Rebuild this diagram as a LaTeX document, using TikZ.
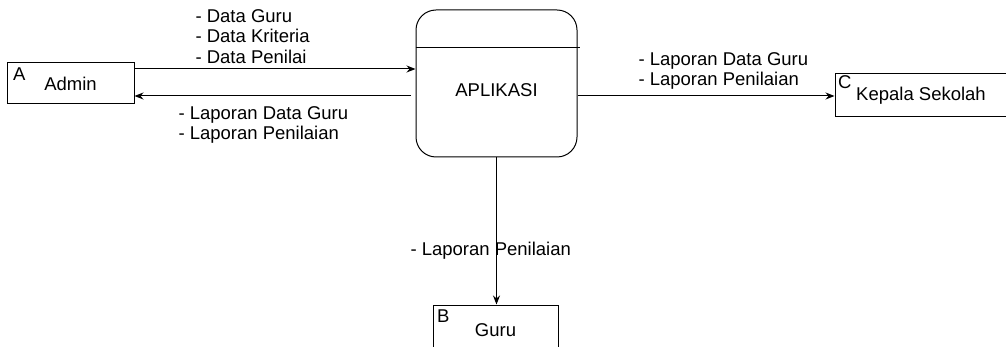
\documentclass[tikz,border=0pt]{standalone}
\usepackage{fontspec}
\setmainfont{Liberation Sans}
\usetikzlibrary{arrows.meta}
\usetikzlibrary{positioning}

\begin{document}
\begin{tikzpicture}[x=1pt,y=-1pt,line width=1pt,>={Stealth[length=9pt,width=7pt]},
	every node/.style={font=\fontsize{18.5}{20.5}\selectfont},
	entity/.style={draw,rectangle,inner sep=0pt},
	lbl/.style={align=left,inner sep=0pt,anchor=north west}]
	\useasboundingbox (0,0) rectangle (1006,347);
	% external entities
	\node[entity,minimum width=127,minimum height=41] (admin) at (70.5,83.5) {Admin};
	\node[entity,minimum width=220,minimum height=43] (kepsek) at (945,95.5) {};
	\node (kepsektext) at (921,95.5) {Kepala Sekolah};
	\node[entity,minimum width=125,minimum height=80] (guru) at (495.5,345) {};
	\node (gurutext) at (495.5,330) {Guru};
	\node[lbl] (ida) at ([shift={(6pt,-5pt)}]admin.north west) {A};
	\node[lbl] (idc) at ([shift={(3pt,-2pt)}]kepsek.north west) {C};
	\node[lbl] (idb) at ([shift={(4pt,-5pt)}]guru.north west) {B};
	% process
	\node[draw,rounded corners=20pt,minimum width=161,minimum height=147] (app) at (496.5,83.5) {};
	\node (apptext) at (496.5,90) {APLIKASI};
	\draw (app.west |- 0,48) -- (580,48);
	% data flows
	\draw[->] (admin.east |- 0,69) -- (app.west |- 0,69);
	\coordinate (retstart) at (411,96);
	\draw[->] (retstart) -- (admin.east |- retstart);
	\draw[->] (app.east |- 0,96) -- (kepsek.west |- 0,96);
	\draw[->] (app.south) -- (app.south |- guru.north);
	\node[lbl] (lin) at (195,9) {- Data Guru\\- Data Kriteria\\- Data Penilai};
	\node[lbl] (lback) at (178,106) {- Laporan Data Guru\\- Laporan Penilaian};
	\node[lbl] (lkep) at (638,52) {- Laporan Data Guru\\- Laporan Penilaian};
	\node[lbl] (lguru) at (410,242) {- Laporan Penilaian};
\end{tikzpicture}
\end{document}
